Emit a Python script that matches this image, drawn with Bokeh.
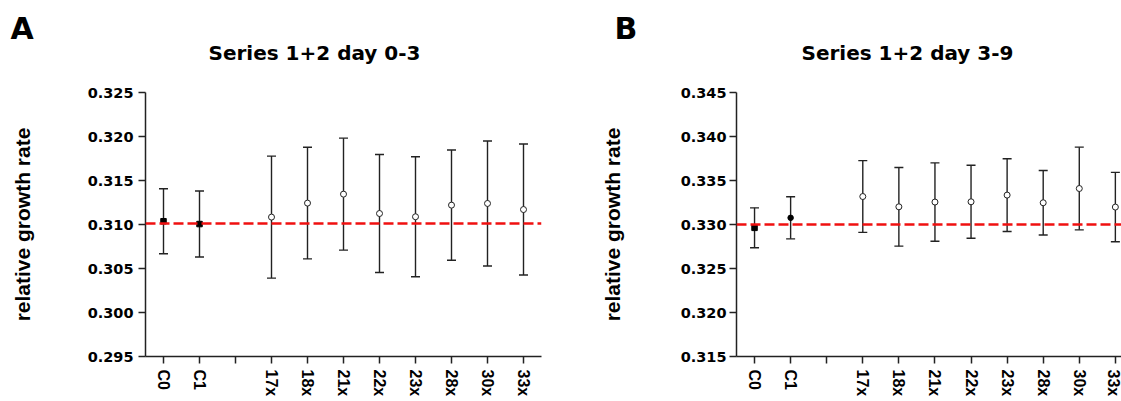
from bokeh.plotting import figure
from bokeh.models import (Range1d, FixedTicker, PrintfTickFormatter, Span, Whisker,
                          TeeHead, ColumnDataSource, Title)
from bokeh.layouts import row
from bokeh.embed import file_html
from bokeh.resources import INLINE

# ---------------- data ----------------
slots = ["C0", "C1", "", "17x", "18x", "21x", "22x", "23x", "28x", "30x", "33x"]
groups = ["C0", "C1", "17x", "18x", "21x", "22x", "23x", "28x", "30x", "33x"]
controls = ["C0", "C1"]

mean_a = [0.31037, 0.31005, 0.31084, 0.31243, 0.31345, 0.31125, 0.31088, 0.31220, 0.31239, 0.31170]
err_a = [0.00369, 0.00375, 0.00693, 0.00634, 0.00636, 0.00670, 0.00682, 0.00627, 0.00710, 0.00744]
mean_b = [0.32962, 0.33076, 0.33318, 0.33201, 0.33255, 0.33258, 0.33334, 0.33247, 0.33409, 0.33198]
err_b = [0.00227, 0.00239, 0.00408, 0.00447, 0.00445, 0.00415, 0.00413, 0.00367, 0.00470, 0.00394]
ref_a = 0.3101
ref_b = 0.3300
yticks_a = [0.295, 0.300, 0.305, 0.310, 0.315, 0.320, 0.325]
yticks_b = [0.315, 0.320, 0.325, 0.330, 0.335, 0.340, 0.345]
title_a = "Series 1+2 day 0-3"
title_b = "Series 1+2 day 3-9"
ylabel = "relative growth rate"

INK = "#222222"
HFONT = "DejaVu Sans"
VFONT = "Liberation Sans"


def make_panel(width, border_left, border_right, x_end, title, letter, mean, err, ref,
               yticks, ctrl_markers, title_dx, letter_dx, tick_standoff, label_standoff):
    xpos = [slots.index(g) for g in groups]
    lower = [m - e for m, e in zip(mean, err)]
    upper = [m + e for m, e in zip(mean, err)]
    src = ColumnDataSource(dict(x=xpos, mean=mean, lower=lower, upper=upper))

    p = figure(width=width, height=401, title=None,
               x_range=Range1d(-0.5, x_end), y_range=Range1d(yticks[0], yticks[-1]),
               output_backend="svg", toolbar_location=None,
               min_border_left=border_left, min_border_right=border_right,
               min_border_top=92, min_border_bottom=45)
    p.xgrid.visible = False
    p.ygrid.visible = False
    p.outline_line_color = None
    p.background_fill_color = "white"
    p.border_fill_color = "white"

    # stacked header: spacer (nearest frame), series title, panel letter
    p.add_layout(Title(text=" ", text_font_size="1px", standoff=24.8), "above")
    p.add_layout(Title(text=title, align="left", offset=title_dx, standoff=0,
                       text_font=HFONT, text_font_size="20px", text_font_style="bold",
                       text_color="black"), "above")
    p.add_layout(Title(text=letter, align="left", offset=letter_dx, standoff=-15,
                       text_font=HFONT, text_font_size="30px", text_font_style="bold",
                       text_color="black"), "above")

    # y axis
    ya = p.yaxis[0]
    ya.ticker = FixedTicker(ticks=yticks)
    ya.formatter = PrintfTickFormatter(format="%.3f")
    ya.major_label_text_font = HFONT
    ya.major_label_text_font_size = "14.5px"
    ya.major_label_text_font_style = "bold"
    ya.major_label_text_color = "black"
    ya.major_label_standoff = tick_standoff
    ya.major_tick_out = 7
    ya.major_tick_in = 0
    ya.minor_tick_line_color = None
    ya.axis_line_width = 1.5
    ya.axis_line_color = INK
    ya.major_tick_line_width = 1.5
    ya.major_tick_line_color = INK
    ya.axis_label = ylabel
    ya.axis_label_text_font = VFONT
    ya.axis_label_text_font_size = "21px"
    ya.axis_label_text_font_style = "bold"
    ya.axis_label_text_color = "black"
    ya.axis_label_standoff = label_standoff

    # x axis
    xa = p.xaxis[0]
    xa.ticker = FixedTicker(ticks=list(range(len(slots))))
    xa.major_label_overrides = {i: s for i, s in enumerate(slots)}
    xa.major_label_orientation = "vertical"
    xa.major_label_text_font = VFONT
    xa.major_label_text_font_size = "16px"
    xa.major_label_text_font_style = "bold"
    xa.major_label_text_color = "black"
    xa.major_label_standoff = 6
    xa.major_tick_out = 7
    xa.major_tick_in = 0
    xa.minor_tick_line_color = None
    xa.axis_line_width = 1.5
    xa.axis_line_color = INK
    xa.major_tick_line_width = 1.5
    xa.major_tick_line_color = INK

    # error bars
    p.add_layout(Whisker(source=src, base="x", upper="upper", lower="lower",
                         dimension="height", line_color=INK, line_width=1.4,
                         upper_head=TeeHead(size=9, line_color=INK, line_width=1.4),
                         lower_head=TeeHead(size=9, line_color=INK, line_width=1.4)))

    # reference line
    p.add_layout(Span(location=ref, dimension="width", line_color="#f01010",
                      line_dash="10 4", line_width=2.5))

    # markers
    for g, mk in zip(controls, ctrl_markers):
        i = groups.index(g)
        p.scatter(x=[xpos[i]], y=[mean[i]], marker=mk, size=5.5,
                  fill_color="black", line_color="black")
    treat = [i for i, g in enumerate(groups) if g not in controls]
    p.scatter(x=[xpos[i] for i in treat], y=[mean[i] for i in treat], marker="circle",
              size=6, fill_color="white", line_color=INK, line_width=1)
    return p


pa = make_panel(560, 145, 19, 10.5, title_a, "A", mean_a, err_a, ref_a, yticks_a,
                ["square", "square"], 63, -135, 5, 51)
pb = make_panel(561, 176, 0, 10.17, title_b, "B", mean_b, err_b, ref_b, yticks_b,
                ["square", "circle"], 65, -122, 3, 54)

layout = row(pa, pb)
open("out.html", "w").write(file_html(layout, INLINE))
